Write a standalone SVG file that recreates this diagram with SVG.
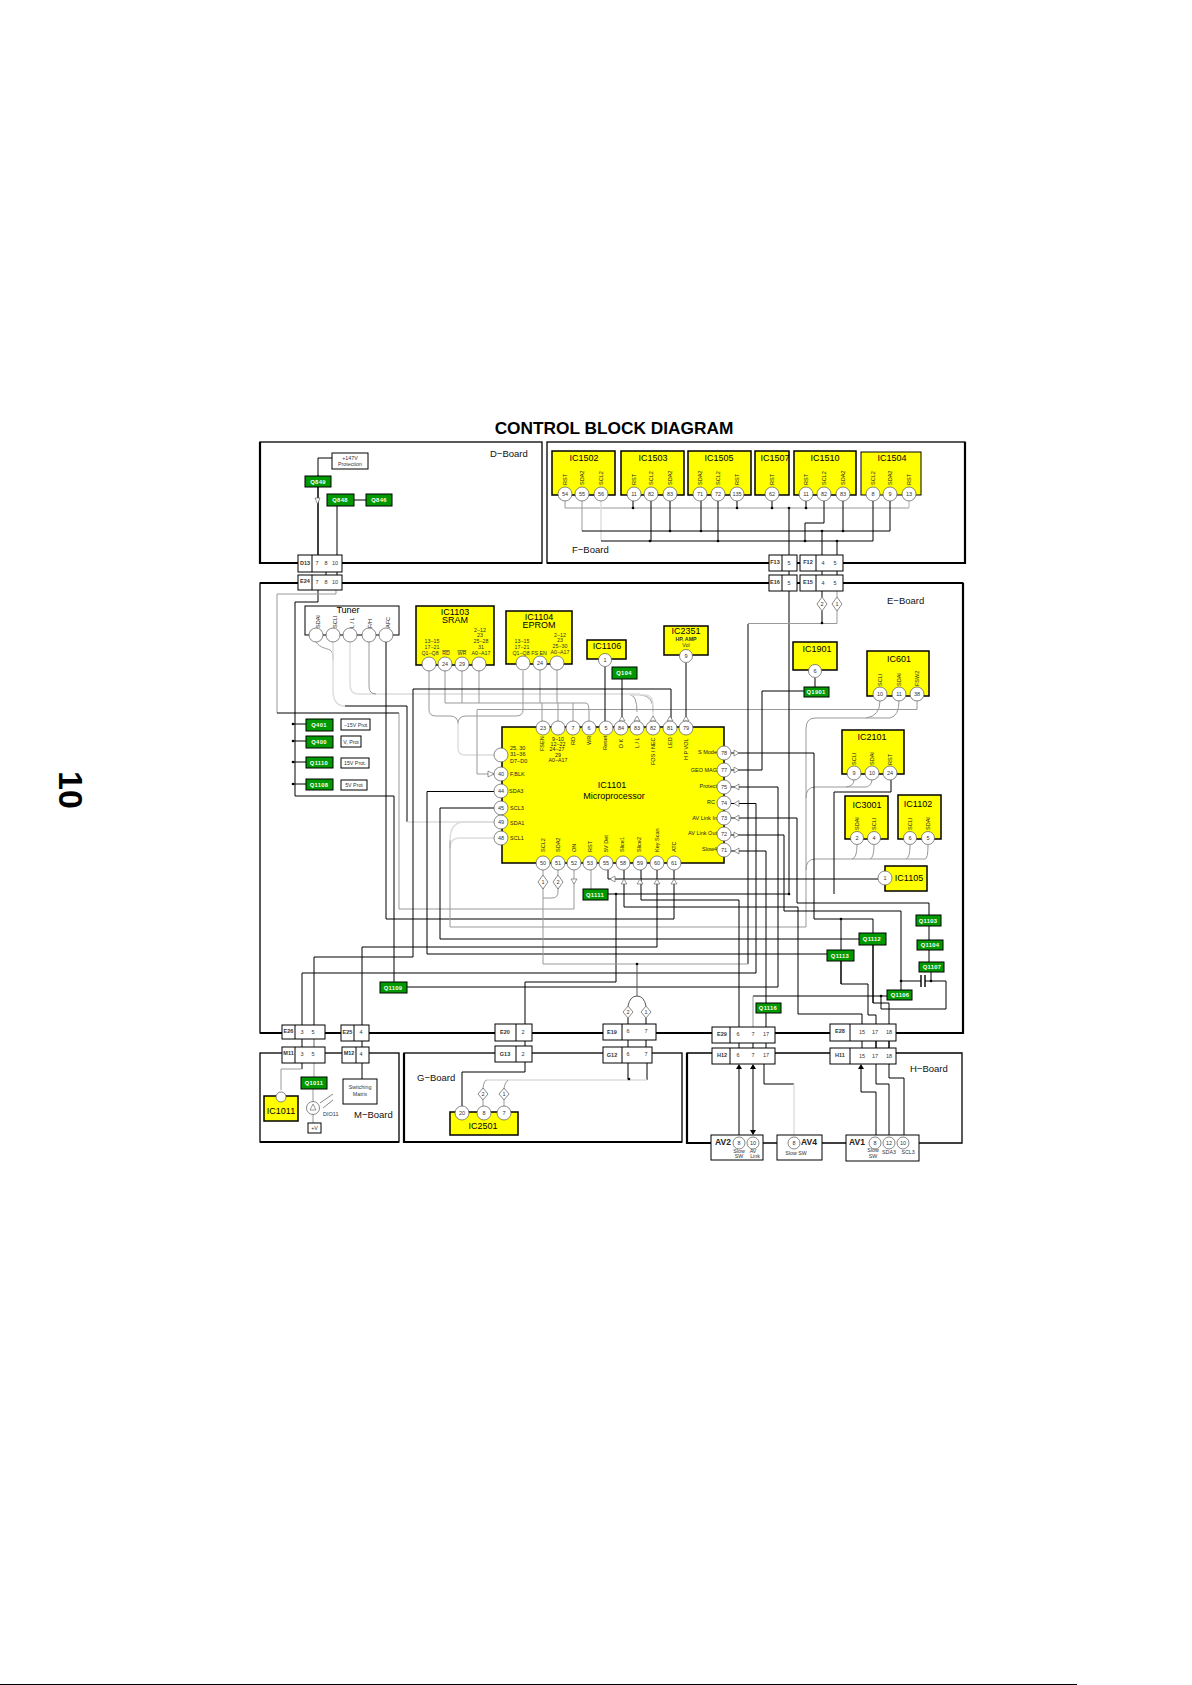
<svg xmlns="http://www.w3.org/2000/svg" width="1192" height="1685" viewBox="0 0 1192 1685">
<style>
text{font-family:"Liberation Sans",Arial,sans-serif;fill:#222}
.brd{fill:none;stroke:#000;stroke-width:1.3}
.thk{fill:none;stroke:#000;stroke-width:2.200}
.k{fill:none;stroke:#000;stroke-width:1}
.g{fill:none;stroke:#999;stroke-width:1}
.l{fill:none;stroke:#ddd;stroke-width:1.4}
.ic{fill:#ff0;stroke:#000;stroke-width:1.5}
.q{fill:#090;stroke:#000;stroke-width:1}
.qt{font-size:5.800px;font-weight:bold;fill:#fff;text-anchor:middle;letter-spacing:.3px}
.pin{fill:#fff;stroke:#555;stroke-width:.7}
.pt{font-size:5.500px;text-anchor:middle;fill:#333}
.box{fill:#fff;stroke:#000;stroke-width:1}
.nm{font-size:9px;text-anchor:middle;fill:#000}
.s{font-size:5.500px;fill:#333}
.m{font-size:5.300px;fill:#333;text-anchor:middle}
.b{font-size:9.500px;fill:#111}
.tri{fill:#fff;stroke:#555;stroke-width:.6}
.dot{fill:#000}
.c{font-size:5.500px;text-anchor:middle;fill:#333}
</style>
<rect x="0" y="1684" width="1077" height="1" fill="#000"/>
<text transform="translate(59,771) rotate(90)" font-size="34" font-weight="bold" style="fill:#000">10</text>
<text x="614" y="434" text-anchor="middle" font-size="17.300" font-weight="bold" style="fill:#000">CONTROL BLOCK DIAGRAM</text>

<g id="boards">
<rect class="brd" x="260" y="442" width="282" height="121"/>
<rect class="brd" x="547" y="442" width="418" height="121"/>
<rect class="brd" x="260" y="583" width="703" height="450"/>
<rect class="brd" x="260" y="1053" width="139" height="89"/>
<rect class="brd" x="404" y="1053" width="278" height="89"/>
<path class="brd" d="M687 1053H962V1143H687Z"/>
<path class="thk" d="M260 442V563H542M547 563H965V442M260 1033H963V583M404 1053V1142H682M687 1053V1143H711M260 583H963M260 1142H399"/>
<text class="b" x="490" y="457">D−Board</text>
<text class="b" x="572" y="553">F−Board</text>
<text class="b" x="887" y="604">E−Board</text>
<text class="b" x="354" y="1118">M−Board</text>
<text class="b" x="417" y="1081">G−Board</text>
<text class="b" x="910" y="1072">H−Board</text>
</g>

<g id="connectors">
<path class="k" d="M332 458H318V555M337 506V555M354 500H366M318 475V572M337 572V575M326 572V575"/>
<path class="k" d="M318 590V602H295V796H394V982M293 724H306M293 741H306M293 762H306M293 784H306"/>
<path class="g" d="M336 590V594H277V713"/>
<path class="k" d="M277 713H399"/>
<path class="g" d="M399 713V909H574V870"/>
<path class="g" d="M316 642C320 648 326 648 330 650C333 652 333 655 333 660"/>
<path class="l" d="M333 642V690Q333 706 345 706"/>
<path class="k" d="M345 706H407V822"/>
<path class="l" d="M407 822H494"/>
<path class="l" d="M350 642V684Q350 694 358 694H640"/>
<path class="g" d="M369 642V686Q369 694 376 694M640 695Q654 695 653 712M630 695Q637 695 637 712"/>
<path class="l" d="M630 695H645Q653 695 653 705V720"/>
<path class="k" d="M386 642V919H674V870"/>
<path class="g" d="M429 671V710Q429 716 436 716H450Q458 716 458 724M523 671V710Q523 716 516 716H466Q458 716 458 724"/>
<path class="l" d="M458 722V748Q458 755 465 755H494"/>
<path class="g" d="M445 670V703H586Q589 703 589 712V721"/>
<path class="g" d="M462 670V703M479 670V703M540 670V703M557 670V703"/>
<path class="g" d="M542 703V721M558 703V721M573 703V721"/>
<path class="g" d="M477 710V774H494"/>
<path class="g" d="M477 709.500H917V701"/>
<path class="k" d="M671 721V689H413V957H314"/>
<path class="k" d="M494 791.500H427V954H827"/>
<path class="k" d="M494 808H440V939H859"/>
<path class="l" d="M494 838H460Q450 838 450 848M494 822H462Q450 824 450 840"/>
<path class="g" d="M450 840V927H806V870Q806 859 815 859H925Q928 859 928 845M806 870V798Q806 787 815 787H865Q871 787 872 780M806 798V729Q806 718 815 718H890Q899 716 899 701M880 701Q880 716 866 718M854 780Q854 786 846 787M857 845Q857 858 852 859M874 845Q874 858 870 859M910 845Q910 858 906 859"/>
<path class="k" d="M605 667V721M622 679V721M686 663V721M815 678V687"/>
<path class="k" d="M804 691H762V770H731"/>
<path class="k" d="M731 753H814V919H873V1003H889V1048"/>
<path class="k" d="M841 919V950M841 961V984H868V1015H876V1048"/>
<path class="k" d="M731 787H778V987H407"/>
<path class="k" d="M731 803.500H756V973H302V1025"/>
<path class="k" d="M731 818H797V903H929V915M929 926V940M929 950V962"/>
<path class="k" d="M731 835H784V911H901V990"/>
<path class="k" d="M731 851H766V1003M766 1013V1027"/>
<path class="k" d="M901 981H921M925 981H946V1009H881V996M931 972V981M887 996H753"/>
<path class="k" d="M921 975V987M925 975V987" style="stroke-width:1.4"/>
<path class="g" d="M753 996V1027"/>
<path class="k" d="M873 945V1003M841 961V984"/>
<path class="g" d="M565 501V508H909V501M582 501V531"/>
<path class="l" d="M601 501V541M909 501V508"/>
<path class="k" d="M582 531H890V501M670 501V531M701 501V531M843 501V531"/>
<path class="k" d="M601 541H873V501M651 501V541M718 501V541"/>
<path class="k" d="M824 501V523H805V541M822 531V555M837 541V555M633 501V508M737 501V508M772 501V508M806 501V508"/>
<path class="k" d="M789 508V555M789 571V575M789 591V894H616M616 894V982H525V1024M608 894H616"/>
<path class="k" d="M834 894V792H891V780M608 870V879H878"/>
<path class="k" d="M822 571V575M837 571V575M822 591V597M822 611V623"/>
<path class="g" d="M837 591V597M837 611V623.500H748"/>
<path class="k" d="M748 624V964"/>
<path class="g" d="M748 964H543V887"/>
<path class="g" d="M543 875V870M558 875V870M558 887V892Q558 898 552 898H543"/>
<path class="g" d="M637 964V996M637 996Q630 996 628 1006M637 996Q644 996 646 1006" style="stroke:#555"/>
<path class="k" d="M628 1018V1024M646 1018V1024M628 1040V1047M646 1040V1047M628 1063V1080M647 1063V1080"/>
<path class="l" d="M487 1080H647"/>
<path class="g" d="M487 1080Q484 1080 483 1088M504 1088Q505 1082 508 1080M483 1100V1106M504 1100V1106"/>
<path class="k" d="M462 1107V1072H525V1062M525 1041V1046"/>
<path class="g" d="M591 870V889"/>
<path class="k" d="M624 870V907H798V1014H862V1024M641 870V900H739V1027"/>
<path class="k" d="M657 870V947H362V1025M362 1041V1047M362 1063V1079"/>
<path class="k" d="M302 1039V1047M302 1063V1069"/>
<path class="g" d="M302 1069H281V1090"/>
<path class="k" d="M314 957V1025"/>
<path class="g" d="M314 1025V1077M313 1089V1123M314 1039V1047"/>
<path class="k" d="M739 1043V1048M753 1043V1048M766 1043V1048M862 1041V1048M876 1041V1048M889 1041V1048"/>
<path class="k" d="M739 1068V1136M753 1068V1130"/>
<path class="k" d="M764 1064V1084H794"/>
<path class="l" d="M794 1084V1136"/>
<path class="k" d="M861 1068V1092H876V1136M876 1064V1084H889V1136M889 1064V1078H904V1136"/>
<path d="M739 1064l-3 5h6zM753 1064l-3 5h6zM861 1064l-3 5h6zM753 1135l-3 -5h6z" fill="#000"/>
<g class="dot">
<circle cx="633" cy="508" r="1.300"/><circle cx="737" cy="508" r="1.300"/><circle cx="772" cy="508" r="1.300"/><circle cx="789" cy="508" r="1.300"/><circle cx="806" cy="508" r="1.300"/>
<circle cx="670" cy="531" r="1.300"/><circle cx="701" cy="531" r="1.300"/><circle cx="822" cy="531" r="1.300"/><circle cx="843" cy="531" r="1.300"/>
<circle cx="650" cy="541" r="1.300"/><circle cx="718" cy="541" r="1.300"/><circle cx="805" cy="541" r="1.300"/><circle cx="837" cy="541" r="1.300"/>
<circle cx="822" cy="623" r="1.300"/><circle cx="293" cy="724" r="1.300"/><circle cx="293" cy="741" r="1.300"/><circle cx="293" cy="762" r="1.300"/><circle cx="293" cy="784" r="1.300"/>
<circle cx="789" cy="894" r="1.300"/><circle cx="616" cy="894" r="1.300"/><circle cx="841" cy="919" r="1.300"/><circle cx="637" cy="964" r="1.300"/><circle cx="629" cy="1079" r="1.300"/>
<circle cx="901" cy="981" r="1.300"/><circle cx="931" cy="981" r="1.300"/><circle cx="881" cy="996" r="1.300"/>
</g>
</g>

<g id="triangles">
<path class="tri" d="M315 498h5l-2.500 6zM622 716l-3 5h6zM637 716l-3 5h6zM653 716l-3 5h6zM670 716l-3 5h6zM686 716l-3 5h6z"/>
<path class="tri" d="M494 774l-6 -3v6z"/>
<path class="tri" d="M739 753l-5 -3v6zM739 770l-5 -3v6zM734 787l5 -3v6zM734 803.500l5 -3v6zM734 818l5 -3v6zM739 835l-5 -3v6zM734 851l5 -3v6z"/>
<path class="tri" d="M624 879l-3 5h6zM640 879l-3 5h6zM657 879l-3 5h6zM674 879l-3 5h6zM610 879l5 -3v6zM574 884l-3 -5h6z"/>
</g>

<g id="D13"><rect class="box" x="298" y="555" width="44" height="17"/><path class="k" d="M312 555V572"/><text class="c" x="305" y="565" font-weight="bold">D13</text><text class="c" x="317" y="565">7</text><text class="c" x="326" y="565">8</text><text class="c" x="335" y="565">10</text></g>
<g id="E24"><rect class="box" x="298" y="575" width="44" height="15"/><path class="k" d="M312 575V590"/><text class="c" x="305" y="583" font-weight="bold">E24</text><text class="c" x="317" y="584">7</text><text class="c" x="326" y="584">8</text><text class="c" x="335" y="584">10</text></g>
<g id="F13"><rect class="box" x="769" y="555" width="28" height="16"/><path class="k" d="M782 555V571"/><text class="c" x="775" y="564" font-weight="bold">F13</text><text class="c" x="789" y="565">5</text></g>
<g id="F12"><rect class="box" x="800" y="555" width="43" height="16"/><path class="k" d="M816 555V571"/><text class="c" x="808" y="564" font-weight="bold">F12</text><text class="c" x="823" y="565">4</text><text class="c" x="835" y="565">5</text></g>
<g id="E16"><rect class="box" x="769" y="575" width="28" height="16"/><path class="k" d="M782 575V591"/><text class="c" x="775" y="584" font-weight="bold">E16</text><text class="c" x="789" y="585">5</text></g>
<g id="E15"><rect class="box" x="800" y="575" width="43" height="16"/><path class="k" d="M816 575V591"/><text class="c" x="808" y="584" font-weight="bold">E15</text><text class="c" x="823" y="585">4</text><text class="c" x="835" y="585">5</text></g>
<g id="E26"><rect class="box" x="282" y="1025" width="43" height="14"/><path class="k" d="M295 1025V1039"/><text class="c" x="288.500" y="1033" font-weight="bold">E26</text><text class="c" x="302" y="1034">3</text><text class="c" x="313" y="1034">5</text></g>
<g id="M11"><rect class="box" x="282" y="1047" width="43" height="16"/><path class="k" d="M295 1047V1063"/><text class="c" x="288.500" y="1055" font-weight="bold">M11</text><text class="c" x="302" y="1056">3</text><text class="c" x="313" y="1056">5</text></g>
<g id="E25"><rect class="box" x="341" y="1025" width="28" height="16"/><path class="k" d="M354 1025V1041"/><text class="c" x="347.500" y="1034" font-weight="bold">E25</text><text class="c" x="361" y="1034">4</text></g>
<g id="M12"><rect class="box" x="342" y="1047" width="27" height="16"/><path class="k" d="M356 1047V1063"/><text class="c" x="349" y="1055" font-weight="bold">M12</text><text class="c" x="361" y="1056">4</text></g>
<g id="E20"><rect class="box" x="495" y="1024" width="37" height="17"/><path class="k" d="M516 1024V1041"/><text class="c" x="505" y="1034" font-weight="bold">E20</text><text class="c" x="523" y="1034">2</text></g>
<g id="G13"><rect class="box" x="495" y="1046" width="37" height="16"/><path class="k" d="M516 1046V1062"/><text class="c" x="505" y="1056" font-weight="bold">G13</text><text class="c" x="523" y="1056">2</text></g>
<g id="E19"><rect class="box" x="603" y="1024" width="53" height="16"/><path class="k" d="M622 1024V1040"/><text class="c" x="612" y="1034" font-weight="bold">E19</text><text class="c" x="628" y="1033">6</text><text class="c" x="646" y="1033">7</text></g>
<g id="G12"><rect class="box" x="603" y="1047" width="49" height="16"/><path class="k" d="M622 1047V1063"/><text class="c" x="612" y="1057" font-weight="bold">G12</text><text class="c" x="628" y="1056">6</text><text class="c" x="646" y="1056">7</text></g>
<g id="E29"><rect class="box" x="712" y="1027" width="63" height="16"/><path class="k" d="M730 1027V1043"/><text class="c" x="722" y="1036" font-weight="bold">E29</text><text class="c" x="738" y="1036">6</text><text class="c" x="753" y="1036">7</text><text class="c" x="766" y="1036">17</text></g>
<g id="H12"><rect class="box" x="712" y="1048" width="63" height="16"/><path class="k" d="M730 1048V1064"/><text class="c" x="722" y="1057" font-weight="bold">H12</text><text class="c" x="738" y="1057">6</text><text class="c" x="753" y="1057">7</text><text class="c" x="766" y="1057">17</text></g>
<g id="E28"><rect class="box" x="830" y="1024" width="66" height="17"/><path class="k" d="M850 1024V1041"/><text class="c" x="840" y="1033" font-weight="bold">E28</text><text class="c" x="862" y="1034">15</text><text class="c" x="875" y="1034">17</text><text class="c" x="889" y="1034">18</text></g>
<g id="H11"><rect class="box" x="830" y="1048" width="66" height="16"/><path class="k" d="M850 1048V1064"/><text class="c" x="840" y="1057" font-weight="bold">H11</text><text class="c" x="862" y="1058">15</text><text class="c" x="875" y="1058">17</text><text class="c" x="889" y="1058">18</text></g>

<g id="prot147"><rect class="box" x="332" y="453" width="36" height="16"/><text class="m" x="350" y="459.500">+147V</text><text class="m" x="350" y="465.500">Protection</text></g>
<g id="Q849"><rect class="q" x="305" y="476" width="26" height="11"/><text class="qt" x="318" y="483.500">Q849</text></g>
<g id="Q848"><rect class="q" x="327" y="494" width="27" height="12"/><text class="qt" x="340" y="502">Q848</text></g>
<g id="Q846"><rect class="q" x="366" y="494" width="26" height="12"/><text class="qt" x="379" y="502">Q846</text></g>
<g id="Q401"><rect class="q" x="306" y="719" width="27" height="12"/><text class="qt" x="319" y="727">Q401</text><rect class="box" x="341" y="719" width="29" height="11"/><text class="m" x="355.500" y="726.500">−15V Prot</text></g>
<g id="Q400"><rect class="q" x="306" y="736" width="27" height="12"/><text class="qt" x="319" y="744">Q400</text><rect class="box" x="341" y="736" width="20" height="11"/><text class="m" x="351" y="743.500">V, Prot</text></g>
<g id="Q1110"><rect class="q" x="306" y="757" width="27" height="11"/><text class="qt" x="319" y="765">Q1110</text><rect class="box" x="341" y="758" width="28" height="10"/><text class="m" x="355" y="765">15V Prot.</text></g>
<g id="Q1108"><rect class="q" x="306" y="779" width="27" height="11"/><text class="qt" x="319" y="787">Q1108</text><rect class="box" x="341" y="780" width="26" height="10"/><text class="m" x="354" y="787">5V Prot</text></g>
<g id="Q104"><rect class="q" x="612" y="667" width="25" height="12"/><text class="qt" x="624" y="675">Q104</text></g>
<g id="Q1901"><rect class="q" x="804" y="687" width="25" height="10"/><text class="qt" x="816" y="694">Q1901</text></g>
<g id="Q1111"><rect class="q" x="583" y="889" width="25" height="11"/><text class="qt" x="595" y="897">Q1111</text></g>
<g id="Q1109"><rect class="q" x="380" y="982" width="27" height="11"/><text class="qt" x="393" y="990">Q1109</text></g>
<g id="Q1116"><rect class="q" x="756" y="1003" width="25" height="10"/><text class="qt" x="768" y="1010">Q1116</text></g>
<g id="Q1112"><rect class="q" x="859" y="933" width="27" height="12"/><text class="qt" x="872" y="941">Q1112</text></g>
<g id="Q1113"><rect class="q" x="827" y="950" width="27" height="11"/><text class="qt" x="840" y="958">Q1113</text></g>
<g id="Q1103"><rect class="q" x="916" y="915" width="25" height="11"/><text class="qt" x="928" y="923">Q1103</text></g>
<g id="Q1104"><rect class="q" x="917" y="940" width="26" height="10"/><text class="qt" x="930" y="947">Q1104</text></g>
<g id="Q1107"><rect class="q" x="919" y="962" width="25" height="10"/><text class="qt" x="932" y="969">Q1107</text></g>
<g id="Q1106"><rect class="q" x="887" y="990" width="25" height="10"/><text class="qt" x="900" y="997">Q1106</text></g>
<g id="Q1011"><rect class="q" x="301" y="1077" width="26" height="12"/><text class="qt" x="314" y="1085">Q1011</text></g>

<g id="Tuner"><rect class="box" x="305" y="606" width="94" height="29"/><text x="348" y="613" text-anchor="middle" font-size="9" style="fill:#000">Tuner</text>
<g class="s"><text transform="translate(320,628) rotate(-90)">SDAI</text><text transform="translate(337,628) rotate(-90)">SCLI</text><text transform="translate(354,628) rotate(-90)">L / L</text><text transform="translate(372,628) rotate(-90)">F/H</text><text transform="translate(390,628) rotate(-90)">AFC</text></g>
<circle class="pin" cx="316" cy="635" r="7"/><circle class="pin" cx="333" cy="635" r="7"/><circle class="pin" cx="350" cy="635" r="7"/><circle class="pin" cx="369" cy="635" r="7"/><circle class="pin" cx="386" cy="635" r="7"/></g>

<g id="IC1103"><rect class="ic" x="416" y="606" width="78" height="59"/><text class="nm" x="455" y="615">IC1103</text><text class="nm" x="455" y="623">SRAM</text>
<text class="m" x="480" y="632">2−12</text><text class="m" x="480" y="637">23</text><text class="m" x="481" y="642.500">25−28</text><text class="m" x="481" y="648.500">31</text><text class="m" x="481" y="655">A0−A17</text><text class="m" x="432" y="643">13−15</text><text class="m" x="432" y="649">17−21</text><text class="m" x="430" y="655">Q1−Q8</text><text class="m" x="446" y="655" text-decoration="overline">RD</text><text class="m" x="462" y="655" text-decoration="overline">WR</text>
<circle class="pin" cx="429" cy="664" r="7"/><circle class="pin" cx="445" cy="664" r="7"/><circle class="pin" cx="462" cy="664" r="7"/><circle class="pin" cx="479" cy="664" r="7"/><text class="pt" x="445" y="666">24</text><text class="pt" x="462" y="666">29</text></g>

<g id="IC1104"><rect class="ic" x="506" y="611" width="66" height="53"/><text class="nm" x="539" y="620">IC1104</text><text class="nm" x="539" y="628">EPROM</text>
<text class="m" x="560" y="637">2−12</text><text class="m" x="560" y="642">23</text><text class="m" x="560" y="648">25−30</text><text class="m" x="560" y="654">A0−A17</text><text class="m" x="522" y="643">13−15</text><text class="m" x="522" y="649">17−21</text><text class="m" x="521" y="655">Q1−Q8</text><text class="m" x="539" y="655">FS EN</text>
<circle class="pin" cx="523" cy="663" r="7"/><circle class="pin" cx="540" cy="663" r="7"/><circle class="pin" cx="557" cy="663" r="7"/><text class="pt" x="540" y="665">24</text></g>

<g id="IC1106"><rect class="ic" x="587" y="640" width="39" height="19"/><text class="nm" x="607" y="649">IC1106</text><circle class="pin" cx="605" cy="660" r="6.500"/><text class="pt" x="605" y="662">1</text></g>
<g id="IC2351"><rect class="ic" x="664" y="626" width="44" height="29"/><text class="nm" x="686" y="634">IC2351</text><text class="m" x="686" y="641" font-weight="bold">HP, AMP</text><text class="m" x="686" y="647">Vol</text><circle class="pin" cx="686" cy="656" r="6.500"/><text class="pt" x="686" y="658">9</text></g>
<g id="IC1901"><rect class="ic" x="793" y="642" width="44" height="28"/><text class="nm" x="817" y="652">IC1901</text><circle class="pin" cx="815" cy="671" r="6.500"/><text class="pt" x="815" y="673">6</text></g>
<g id="IC601"><rect class="ic" x="867" y="651" width="62" height="45"/><text class="nm" x="899" y="662">IC601</text><g class="s"><text transform="translate(882,686) rotate(-90)">SCLI</text><text transform="translate(901,686) rotate(-90)">SDAI</text><text transform="translate(919,686) rotate(-90)">FSW2</text></g><circle class="pin" cx="880" cy="694" r="7"/><circle class="pin" cx="899" cy="694" r="7"/><circle class="pin" cx="917" cy="694" r="7"/><text class="pt" x="880" y="696">10</text><text class="pt" x="899" y="696">11</text><text class="pt" x="917" y="696">38</text></g>
<g id="IC2101"><rect class="ic" x="842" y="730" width="62" height="44"/><text class="nm" x="872" y="740">IC2101</text><g class="s"><text transform="translate(856,765) rotate(-90)">SCLI</text><text transform="translate(874,765) rotate(-90)">SDAI</text><text transform="translate(892,765) rotate(-90)">RST</text></g><circle class="pin" cx="854" cy="773" r="7"/><circle class="pin" cx="872" cy="773" r="7"/><circle class="pin" cx="890" cy="773" r="7"/><text class="pt" x="854" y="775">9</text><text class="pt" x="872" y="775">10</text><text class="pt" x="890" y="775">24</text></g>
<g id="IC3001"><rect class="ic" x="845" y="796" width="43" height="43"/><text class="nm" x="867" y="808">IC3001</text><g class="s"><text transform="translate(859,830) rotate(-90)">SDAI</text><text transform="translate(876,830) rotate(-90)">SCLI</text></g><circle class="pin" cx="857" cy="838" r="6.500"/><circle class="pin" cx="874" cy="838" r="6.500"/><text class="pt" x="857" y="840">2</text><text class="pt" x="874" y="840">4</text></g>
<g id="IC1102"><rect class="ic" x="898" y="795" width="43" height="44"/><text class="nm" x="918" y="807">IC1102</text><g class="s"><text transform="translate(912,830) rotate(-90)">SCLI</text><text transform="translate(930,830) rotate(-90)">SDAI</text></g><circle class="pin" cx="910" cy="838" r="6.500"/><circle class="pin" cx="928" cy="838" r="6.500"/><text class="pt" x="910" y="840">6</text><text class="pt" x="928" y="840">5</text></g>
<g id="IC1105"><rect class="ic" x="885" y="866" width="42" height="25"/><text class="nm" x="909" y="881">IC1105</text><circle class="pin" cx="885" cy="878" r="7"/><text class="pt" x="885" y="880">1</text></g>

<g id="IC1101"><rect class="ic" x="502" y="727" width="222" height="136"/><text class="nm" x="612" y="788">IC1101</text><text class="nm" x="614" y="799">Microprocessor</text>
<g class="s"><text x="510" y="750">25, 30</text><text x="510" y="756">31−36</text><text x="510" y="763">D7−D0</text><text x="510" y="776">F,BLK</text><text x="509" y="793">SDA3</text><text x="510" y="810">SCL3</text><text x="510" y="825">SDA1</text><text x="510" y="840">SCL1</text></g>
<g class="m"><text x="558" y="741">9−10</text><text x="558" y="746">12−22</text><text x="557" y="751">24−27</text><text x="558" y="757">29</text><text x="558" y="762">A0−A17</text></g>
<g class="s"><text transform="translate(544,751) rotate(-90)">FSEN</text><text transform="translate(575,745) rotate(-90)">RD</text><text transform="translate(591,745) rotate(-90)">WR</text><text transform="translate(607,750) rotate(-90)">Reset</text><text transform="translate(623,748) rotate(-90)">D K</text><text transform="translate(639,748) rotate(-90)">L / L</text><text transform="translate(655,765) rotate(-90)">FOS / NEC</text><text transform="translate(672,748) rotate(-90)">LED</text><text transform="translate(688,760) rotate(-90)">H P VOL</text>
<text transform="translate(545,852) rotate(-90)">SCL2</text><text transform="translate(560,852) rotate(-90)">SDA2</text><text transform="translate(576,852) rotate(-90)">ON</text><text transform="translate(592,852) rotate(-90)">RST</text><text transform="translate(608,852) rotate(-90)">5V Det</text><text transform="translate(624,852) rotate(-90)">Slice1</text><text transform="translate(641,852) rotate(-90)">Slice2</text><text transform="translate(659,852) rotate(-90)">Key Scan</text><text transform="translate(676,852) rotate(-90)">ATC</text></g>
<g class="s" text-anchor="end"><text x="717" y="754">S Mode</text><text x="717" y="772">GEO MAG</text><text x="717" y="788">Protect</text><text x="715" y="804">RC</text><text x="717" y="820">AV Link In</text><text x="717" y="835">AV Link Out</text><text x="717" y="851">Slow4</text></g>
<g id="pins1101">
<circle class="pin" cx="543" cy="728" r="7"/><circle class="pin" cx="558" cy="728" r="7"/><circle class="pin" cx="573" cy="728" r="7"/><circle class="pin" cx="589" cy="728" r="7"/><circle class="pin" cx="606" cy="728" r="7"/><circle class="pin" cx="621" cy="728" r="7"/><circle class="pin" cx="637" cy="728" r="7"/><circle class="pin" cx="653" cy="728" r="7"/><circle class="pin" cx="670" cy="728" r="7"/><circle class="pin" cx="686" cy="728" r="7"/>
<text class="pt" x="543" y="730">23</text><text class="pt" x="573" y="730">7</text><text class="pt" x="589" y="730">6</text><text class="pt" x="606" y="730">5</text><text class="pt" x="621" y="730">84</text><text class="pt" x="637" y="730">83</text><text class="pt" x="653" y="730">82</text><text class="pt" x="670" y="730">81</text><text class="pt" x="686" y="730">79</text>
<circle class="pin" cx="501" cy="755" r="7"/><circle class="pin" cx="501" cy="774" r="7"/><circle class="pin" cx="501" cy="791" r="7"/><circle class="pin" cx="501" cy="808" r="7"/><circle class="pin" cx="501" cy="822" r="7"/><circle class="pin" cx="501" cy="838" r="7"/>
<text class="pt" x="501" y="776">40</text><text class="pt" x="501" y="793">44</text><text class="pt" x="501" y="810">45</text><text class="pt" x="501" y="824">49</text><text class="pt" x="501" y="840">48</text>
<circle class="pin" cx="543" cy="863" r="7"/><circle class="pin" cx="558" cy="863" r="7"/><circle class="pin" cx="574" cy="863" r="7"/><circle class="pin" cx="590" cy="863" r="7"/><circle class="pin" cx="606" cy="863" r="7"/><circle class="pin" cx="623" cy="863" r="7"/><circle class="pin" cx="640" cy="863" r="7"/><circle class="pin" cx="657" cy="863" r="7"/><circle class="pin" cx="674" cy="863" r="7"/>
<text class="pt" x="543" y="865">50</text><text class="pt" x="558" y="865">51</text><text class="pt" x="574" y="865">52</text><text class="pt" x="590" y="865">53</text><text class="pt" x="606" y="865">55</text><text class="pt" x="623" y="865">58</text><text class="pt" x="640" y="865">59</text><text class="pt" x="657" y="865">60</text><text class="pt" x="674" y="865">61</text>
<circle class="pin" cx="724" cy="753" r="7"/><circle class="pin" cx="724" cy="770" r="7"/><circle class="pin" cx="724" cy="787" r="7"/><circle class="pin" cx="724" cy="803" r="7"/><circle class="pin" cx="724" cy="818" r="7"/><circle class="pin" cx="724" cy="834" r="7"/><circle class="pin" cx="724" cy="850" r="7"/>
<text class="pt" x="724" y="755">78</text><text class="pt" x="724" y="772">77</text><text class="pt" x="724" y="789">75</text><text class="pt" x="724" y="805">74</text><text class="pt" x="724" y="820">73</text><text class="pt" x="724" y="836">72</text><text class="pt" x="724" y="852">71</text>
</g></g>

<g id="IC1502"><rect class="ic" x="552" y="451" width="63" height="44"/><text class="nm" x="584" y="461">IC1502</text><g class="s"><text transform="translate(567,485) rotate(-90)">RST</text><text transform="translate(584,485) rotate(-90)">SDA2</text><text transform="translate(603,485) rotate(-90)">SCL2</text></g><circle class="pin" cx="565" cy="494" r="7"/><circle class="pin" cx="582" cy="494" r="7"/><circle class="pin" cx="601" cy="494" r="7"/><text class="pt" x="565" y="496">54</text><text class="pt" x="582" y="496">55</text><text class="pt" x="601" y="496">56</text></g>
<g id="IC1503"><rect class="ic" x="621" y="451" width="63" height="44"/><text class="nm" x="653" y="461">IC1503</text><g class="s"><text transform="translate(636,485) rotate(-90)">RST</text><text transform="translate(653,485) rotate(-90)">SCL2</text><text transform="translate(672,485) rotate(-90)">SDA2</text></g><circle class="pin" cx="634" cy="494" r="7"/><circle class="pin" cx="651" cy="494" r="7"/><circle class="pin" cx="670" cy="494" r="7"/><text class="pt" x="634" y="496">11</text><text class="pt" x="651" y="496">82</text><text class="pt" x="670" y="496">83</text></g>
<g id="IC1505"><rect class="ic" x="688" y="451" width="63" height="44"/><text class="nm" x="719" y="461">IC1505</text><g class="s"><text transform="translate(702,485) rotate(-90)">SDA2</text><text transform="translate(720,485) rotate(-90)">SCL2</text><text transform="translate(739,485) rotate(-90)">RST</text></g><circle class="pin" cx="700" cy="494" r="7"/><circle class="pin" cx="718" cy="494" r="7"/><circle class="pin" cx="737" cy="494" r="7"/><text class="pt" x="700" y="496">71</text><text class="pt" x="718" y="496">72</text><text class="pt" x="737" y="496">135</text></g>
<g id="IC1507"><rect class="ic" x="755" y="451" width="34" height="44"/><text class="nm" x="775" y="461">IC1507</text><g class="s"><text transform="translate(774,485) rotate(-90)">RST</text></g><circle class="pin" cx="772" cy="494" r="7"/><text class="pt" x="772" y="496">62</text></g>
<g id="IC1510"><rect class="ic" x="794" y="451" width="62" height="44"/><text class="nm" x="825" y="461">IC1510</text><g class="s"><text transform="translate(808,485) rotate(-90)">RST</text><text transform="translate(826,485) rotate(-90)">SCL2</text><text transform="translate(845,485) rotate(-90)">SDA2</text></g><circle class="pin" cx="806" cy="494" r="7"/><circle class="pin" cx="824" cy="494" r="7"/><circle class="pin" cx="843" cy="494" r="7"/><text class="pt" x="806" y="496">11</text><text class="pt" x="824" y="496">82</text><text class="pt" x="843" y="496">83</text></g>
<g id="IC1504"><rect class="ic" x="861" y="452" width="60" height="43" style="stroke-width:1"/><text class="nm" x="892" y="461">IC1504</text><g class="s"><text transform="translate(875,485) rotate(-90)">SCL2</text><text transform="translate(892,485) rotate(-90)">SDA2</text><text transform="translate(911,485) rotate(-90)">RST</text></g><circle class="pin" cx="873" cy="494" r="7"/><circle class="pin" cx="890" cy="494" r="7"/><circle class="pin" cx="909" cy="494" r="7"/><text class="pt" x="873" y="496">8</text><text class="pt" x="890" y="496">9</text><text class="pt" x="909" y="496">13</text></g>

<g id="diamonds">
<path class="pin" d="M822 597l5 7l-5 7l-5 -7zM837 597l5 7l-5 7l-5 -7zM543 875l5 7l-5 7l-5 -7zM558 875l5 7l-5 7l-5 -7zM628 1006l5 6l-5 6l-5 -6zM646 1006l5 6l-5 6l-5 -6zM483 1088l5 6l-5 6l-5 -6zM504 1088l5 6l-5 6l-5 -6z"/>
<text class="pt" x="822" y="606">2</text><text class="pt" x="837" y="606">1</text><text class="pt" x="543" y="884">1</text><text class="pt" x="558" y="884">2</text><text class="pt" x="628" y="1014">2</text><text class="pt" x="646" y="1014">1</text><text class="pt" x="483" y="1096">2</text><text class="pt" x="504" y="1096">1</text>
</g>

<g id="IC1011"><rect class="ic" x="264" y="1096" width="34" height="25"/><text class="nm" x="281" y="1114">IC1011</text><circle class="pin" cx="281" cy="1097" r="5"/></g>
<g id="DIO11"><circle class="pin" cx="313" cy="1108" r="6.500"/><path class="tri" d="M313 1104l-3 6h6z"/><path class="k" d="M320 1103L333 1094M323 1108L333 1100" style="stroke:#555;stroke-width:.7"/><text class="s" x="323" y="1116">DIO11</text></g>
<g id="plusV"><rect class="box" x="308" y="1123" width="13" height="10"/><text class="m" x="314.500" y="1130">+V</text></g>
<g id="Switching"><rect class="box" x="343" y="1079" width="34" height="25"/><text class="m" x="360" y="1089">Switching</text><text class="m" x="360" y="1096">Matrix</text></g>
<g id="IC2501"><rect class="ic" x="450" y="1112" width="68" height="23"/><text class="nm" x="483" y="1129">IC2501</text><circle class="pin" cx="462" cy="1113" r="7"/><circle class="pin" cx="484" cy="1113" r="7"/><circle class="pin" cx="504" cy="1113" r="7"/><text class="pt" x="462" y="1115">20</text><text class="pt" x="484" y="1115">8</text><text class="pt" x="504" y="1115">7</text></g>
<g id="AV2"><rect class="box" x="711" y="1135" width="52" height="25"/><text x="715" y="1145" font-size="8.500" font-weight="bold">AV2</text><circle class="pin" cx="739" cy="1143" r="6"/><circle class="pin" cx="753" cy="1143" r="6"/><text class="pt" x="739" y="1145">8</text><text class="pt" x="753" y="1145">10</text><text class="m" x="739" y="1153">Slow</text><text class="m" x="739" y="1158">SW</text><text class="m" x="753" y="1153">AV</text><text class="m" x="755" y="1158">Link</text></g>
<g id="AV4"><rect class="box" x="777" y="1135" width="45" height="25"/><circle class="pin" cx="794" cy="1143" r="6"/><text class="pt" x="794" y="1145">8</text><text x="801" y="1145" font-size="8.500" font-weight="bold">AV4</text><text class="m" x="796" y="1155">Slow SW</text></g>
<g id="AV1"><rect class="box" x="846" y="1135" width="73" height="26"/><text x="849" y="1145" font-size="8.500" font-weight="bold">AV1</text><circle class="pin" cx="875" cy="1143" r="6"/><circle class="pin" cx="889" cy="1143" r="6"/><circle class="pin" cx="903" cy="1143" r="6"/><text class="pt" x="875" y="1145">8</text><text class="pt" x="889" y="1145">12</text><text class="pt" x="903" y="1145">10</text><text class="m" x="873" y="1152">Slow</text><text class="m" x="873" y="1158">SW</text><text class="m" x="889" y="1154">SDA3</text><text class="m" x="908" y="1154">SCL3</text></g>
</svg>
